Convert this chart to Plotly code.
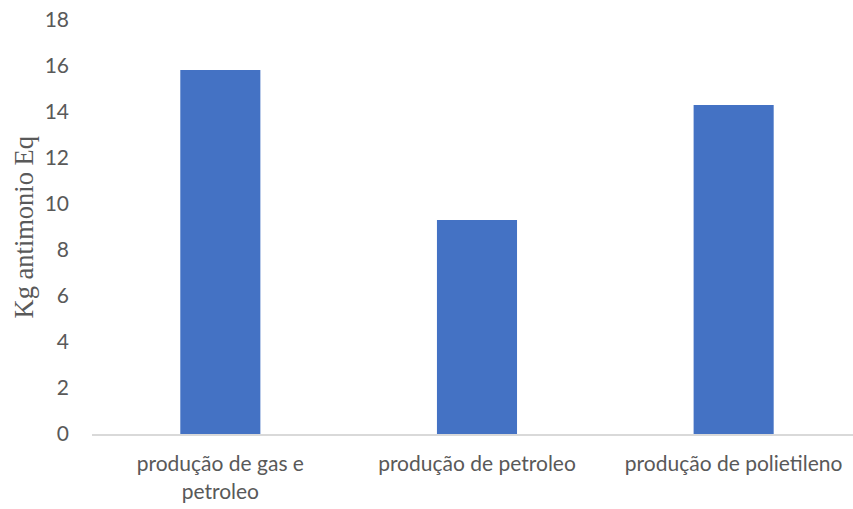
import plotly.graph_objects as go

categories = ["produção de gas e<br>petroleo", "produção de petroleo", "produção de polietileno"]
values = [15.83, 9.3, 14.3]
y_ticks = [0, 2, 4, 6, 8, 10, 12, 14, 16, 18]
y_title = "Kg antimonio Eq"

fig = go.Figure()
fig.add_trace(go.Bar(
    x=categories,
    y=values,
    marker=dict(color="#4472C4", line=dict(width=0)),
))

fig.update_layout(
    width=853,
    height=509,
    margin=dict(l=92, r=0, t=20, b=75),
    paper_bgcolor="white",
    plot_bgcolor="white",
    bargap=0.688,
    showlegend=False,
    font=dict(family="Lato", color="#595959", size=20),
)
fig.update_xaxes(
    range=[-0.5, 2.465],
    automargin=False,
    showline=True,
    linecolor="#D9D9D9",
    linewidth=2,
    showgrid=False,
    ticks="",
    tickfont=dict(family="Lato", size=21, color="#595959"),
    ticklabelstandoff=10,
    ticklabeloverflow="allow",
)
fig.update_yaxes(
    range=[0, 18],
    automargin=False,
    tickvals=y_ticks,
    showgrid=False,
    zeroline=False,
    showline=False,
    ticks="",
    tickfont=dict(family="Lato", size=21, color="#595959"),
    ticklabelstandoff=22,
    ticklabeloverflow="allow",
)
fig.add_annotation(
    text=y_title,
    xref="paper", yref="paper",
    x=-0.09, y=0.5,
    xanchor="center", yanchor="middle",
    textangle=-90,
    showarrow=False,
    font=dict(family="Liberation Serif", size=26.5, color="#595959"),
)

fig.write_html(
    "out.html",
    config={"displayModeBar": False},
    post_script="document.body.style.margin='0';document.body.style.overflow='hidden';",
)
